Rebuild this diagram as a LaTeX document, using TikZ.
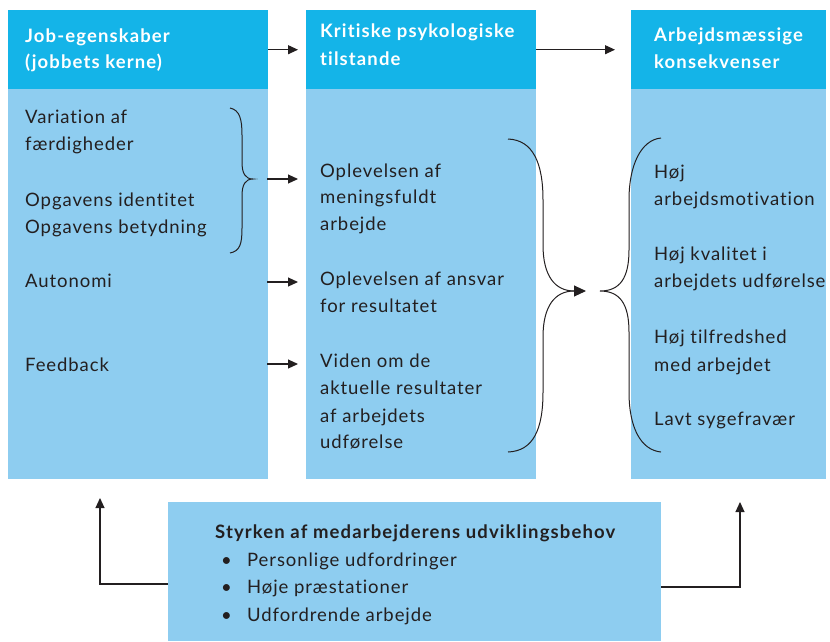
\documentclass[tikz,border=0pt]{standalone}
\usepackage{fontspec}
\setmainfont{Lato}[LetterSpace=5,BoldFeatures={LetterSpace=6},Ligatures={NoCommon}]
\usetikzlibrary{arrows.meta}
\definecolor{hdrblue}{RGB}{20,180,232}
\definecolor{bodyblue}{RGB}{142,205,240}
\definecolor{ink}{RGB}{35,31,32}
\begin{document}
\begin{tikzpicture}[x=1pt,y=-1pt,
  hdrbox/.style={fill=hdrblue,draw=none,anchor=north west,inner sep=0,minimum height=79pt},
  bodybox/.style={fill=bodyblue,draw=none,anchor=north west,inner sep=0},
  htxt/.style={anchor=base west,inner sep=0,text=white,font=\fontsize{18.5}{22}\selectfont\bfseries},
  btxt/.style={anchor=base west,inner sep=0,text=ink,font=\fontsize{18.5}{22}\selectfont},
  arr/.style={draw=ink,line width=1.1pt,-{Triangle[length=10pt,width=9pt]}},
  brace/.style={draw=ink,line width=1pt}]
\useasboundingbox (0,0) rectangle (830,641);

% column boxes
\node[hdrbox,minimum width=260pt] (lh) at (8,10) {};
\node[bodybox,minimum width=260pt,minimum height=390pt] (lb) at (8,89) {};
\node[hdrbox,minimum width=230pt] (mh) at (306,10) {};
\node[bodybox,minimum width=230pt,minimum height=390pt] (mb) at (306,89) {};
\node[hdrbox,minimum width=195pt] (rh) at (631,10) {};
\node[bodybox,minimum width=195pt,minimum height=390pt] (rb) at (631,89) {};
\node[bodybox,minimum width=493pt,minimum height=139pt] (bb) at (168,502) {};

% header texts
\node[htxt] (lh1) at (25,42) {Job-egenskaber};
\node[htxt] (lh2) at (25,68) {(jobbets kerne)};
\node[htxt] (mh1) at (320,37) {Kritiske psykologiske};
\node[htxt] (mh2) at (320,65) {tilstande};
\node[htxt] (rh1) at (654,41) {Arbejdsmæssige};
\node[htxt] (rh2) at (654,68) {konsekvenser};

% body texts
\foreach \t/\y [count=\i] in {Variation af/123, færdigheder/150,
    Opgavens identitet/206, Opgavens betydning/233, Autonomi/287, Feedback/371}
  \node[btxt] (lt\i) at (25,\y) {\t};
\foreach \t/\y [count=\i] in {Oplevelsen af/177, meningsfuldt/203, arbejde/230,
    Oplevelsen af ansvar/285, for resultatet/312, Viden om de/367,
    aktuelle resultater/394, af arbejdets/422, udførelse/448}
  \node[btxt] (mt\i) at (320,\y) {\t};
\foreach \t/\y [count=\i] in {Høj/178, arbejdsmotivation/205, Høj kvalitet i/260,
    arbejdets udførelse/287, Høj tilfredshed/343, med arbejdet/371, Lavt sygefravær/425}
  \node[btxt] (rt\i) at (654,\y) {\t};

% bottom box texts
\node[btxt,font=\fontsize{18.5}{22}\selectfont\bfseries] (bt0) at (215,538)
  {Styrken af medarbejderens udviklingsbehov};
\foreach \t/\y [count=\i] in {Personlige udfordringer/566, Høje præstationer/593,
    Udfordrende arbejde/621}{
  \node[btxt] (bu\i) at (221,\y) {•};
  \node[btxt] (bt\i) at (247,\y) {\t};
}

% arrows between headers
\draw[arr,shorten >=8pt] (lh.east) -- (mh.west);
\draw[arr,shorten >=16pt] (mh.east) -- (rh.west);

% brace over the first three job characteristics
\draw[brace] (230,108) .. controls (240,110) and (242,120) .. (242,135) -- (242,162)
  .. controls (242,173) and (245,179) .. (253,179)
  .. controls (245,179) and (242,185) .. (242,196) -- (242,228)
  .. controls (242,244) and (240,251) .. (230,253);

% arrows from job characteristics to psychological states
\coordinate (a1) at (267,179);
\coordinate (a2) at (267,282);
\coordinate (a3) at (267,364);
\foreach \c in {a1,a2,a3}
  \draw[arr,shorten >=8pt] (\c) -- (mb.west |- \c);

% large brace with arrow, and opening brace of the outcomes
\coordinate (mid) at (586,291);
\draw[brace,-{Triangle[length=12pt,width=11pt]}] (508,139)
  .. controls (533,140) and (543,163) .. (543,200) -- (543,245)
  .. controls (543,276) and (555,291) .. (mid);
\draw[brace] (574,291) .. controls (555,291) and (543,306) .. (543,337) -- (543,392)
  .. controls (543,430) and (533,451) .. (508,452);
\draw[brace] (661,138) .. controls (641,140) and (629,165) .. (629,200) -- (629,250)
  .. controls (629,278) and (620,291) .. (600,291)
  .. controls (620,291) and (629,304) .. (629,332) -- (629,392)
  .. controls (629,428) and (641,450) .. (661,452);

% feedback from employee growth need strength
\coordinate (fl) at (100,498);
\coordinate (fr) at (740,502);
\draw[arr] (bb.west |- 0,584) -| (fl);
\draw[arr] (bb.east |- 0,587) -| (fr);
\end{tikzpicture}
\end{document}
